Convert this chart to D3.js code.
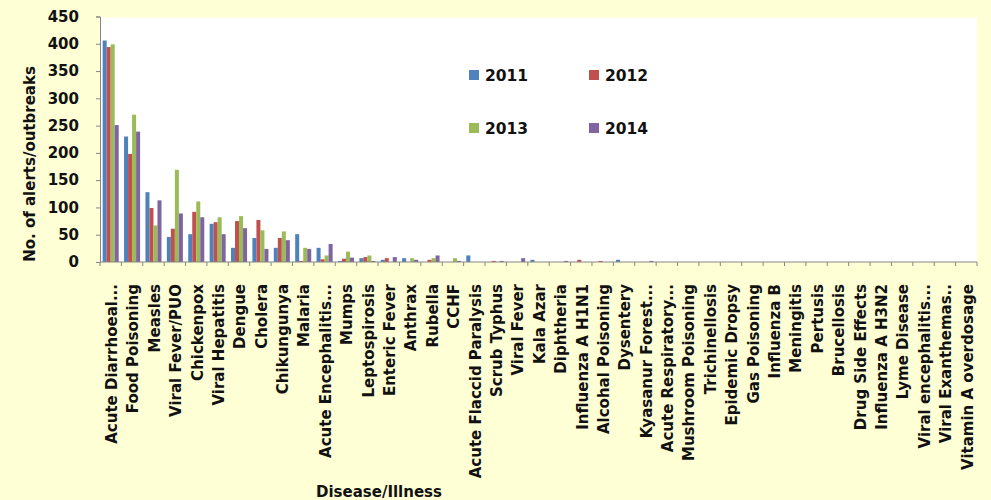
<!DOCTYPE html>
<html><head><meta charset="utf-8">
<script src="https://cdn.jsdelivr.net/npm/d3@7"></script>
<style>
html,body{margin:0;padding:0;background:#FFFFD5;}
svg{display:block;}
text{font-family:"DejaVu Sans",sans-serif;font-weight:bold;fill:#111;}
</style></head>
<body>
<svg id="chart" width="991" height="500"></svg>
<script>
const categories = ["Acute Diarrhoeal...","Food Poisoning","Measles","Viral Fever/PUO","Chickenpox","Viral Hepatitis","Dengue","Cholera","Chikungunya","Malaria","Acute Encephalitis...","Mumps","Leptospirosis","Enteric Fever","Anthrax","Rubella","CCHF","Acute Flaccid Paralysis","Scrub Typhus","Viral Fever","Kala Azar","Diphtheria","Influenza A H1N1","Alcohal Poisoning","Dysentery","Kyasanur Forest...","Acute Respiratory...","Mushroom Poisoning","Trichinellosis","Epidemic Dropsy","Gas Poisoning","Influenza B","Meningitis","Pertusis","Brucellosis","Drug Side Effects","Influenza A H3N2","Lyme Disease","Viral encephalitis...","Viral Exanthemas..","Vitamin A overdosage"];
const years = ["2011","2012","2013","2014"];
const v2011 = [406,230,128,46,51,70,26,44,26,51,26,2,7,4,7,0,0,12,0,0,4,0,0,0,4,0,0,0,0,0,0,0,0,0,0,0,0,0,0,0,0];
const v2012 = [394,198,99,61,92,73,75,77,44,2,5,6,9,7,0,4,0,0,2,0,0,0,4,2,0,0,0,0,0,0,0,0,0,0,0,0,0,0,0,0,0];
const v2013 = [399,270,67,169,111,82,84,58,56,26,12,19,12,0,7,7,7,0,0,0,0,0,0,0,0,0,0,0,0,0,0,0,0,0,0,0,0,0,0,0,0];
const v2014 = [251,239,113,89,82,51,62,24,40,24,33,8,2,9,4,12,2,0,2,7,0,2,0,0,0,2,0,0,0,0,0,0,0,0,0,0,0,0,0,0,0];
const yTicks = [0,50,100,150,200,250,300,350,400,450];
const colors = ["#4F81BD","#C0504D","#9BBB59","#8064A2"];
const series = [v2011,v2012,v2013,v2014];

const svg = d3.select("#chart");
const L = 100, R = 977, T = 17.5, B = 262;

svg.append("rect").attr("x",L).attr("y",T).attr("width",R-L).attr("height",B-T).attr("fill","#fff");

const x = d3.scaleBand().domain(categories).range([L,R]).paddingInner(0.25).paddingOuter(0.125);
const xs = d3.scaleBand().domain(years).range([0,x.bandwidth()]);
const y = d3.scaleLinear().domain([0,450]).range([B,16.5]);

// bars
const g = svg.append("g");
series.forEach((s,si)=>{
  g.selectAll(null).data(s).enter().append("rect")
    .attr("x",(d,i)=>x(categories[i])+xs(years[si]))
    .attr("y",d=>y(d))
    .attr("width",xs.bandwidth())
    .attr("height",d=>B-y(d))
    .attr("fill",colors[si]);
});

// y axis
const ya = svg.append("g").attr("transform",`translate(${L},0)`)
  .call(d3.axisLeft(y).tickValues(yTicks).tickSize(4).tickPadding(17));
ya.select(".domain").attr("stroke","#868686");
ya.selectAll(".tick line").attr("stroke","#868686");
ya.selectAll("text").style("font-size","15px").attr("fill","#111");

// x axis
const xa = svg.append("g").attr("transform",`translate(0,${B})`);
xa.append("line").attr("x1",L).attr("x2",R).attr("y1",0).attr("y2",0).attr("stroke","#868686");
const bounds = d3.range(categories.length+1).map(i=>L+i*x.step()-0 );
xa.selectAll(null).data(bounds).enter().append("line")
  .attr("x1",d=>d).attr("x2",d=>d).attr("y1",0).attr("y2",4).attr("stroke","#868686");
xa.selectAll(null).data(categories).enter().append("text")
  .attr("transform",d=>`translate(${x(d)+x.bandwidth()/2+1},22) rotate(-90)`)
  .attr("text-anchor","end").attr("dy","0.35em")
  .style("font-size","15px").text(d=>d);

// axis titles
svg.append("text").attr("transform","translate(30,164) rotate(-90)")
  .attr("text-anchor","middle").attr("dy","0.35em").style("font-size","15px")
  .text("No. of alerts/outbreaks");
svg.append("text").attr("x",379).attr("y",497).attr("text-anchor","middle")
  .style("font-size","15px").text("Disease/Illness");

// legend
const legPos = [[469,75],[589,75],[469,128],[589,128]];
years.forEach((yr,i)=>{
  const [lx,ly] = legPos[i];
  svg.append("rect").attr("x",lx).attr("y",ly-5).attr("width",10).attr("height",10).attr("fill",colors[i]);
  svg.append("text").attr("x",lx+16).attr("y",ly).attr("dy","0.36em").style("font-size","15.5px").text(yr);
});
</script>
</body></html>
